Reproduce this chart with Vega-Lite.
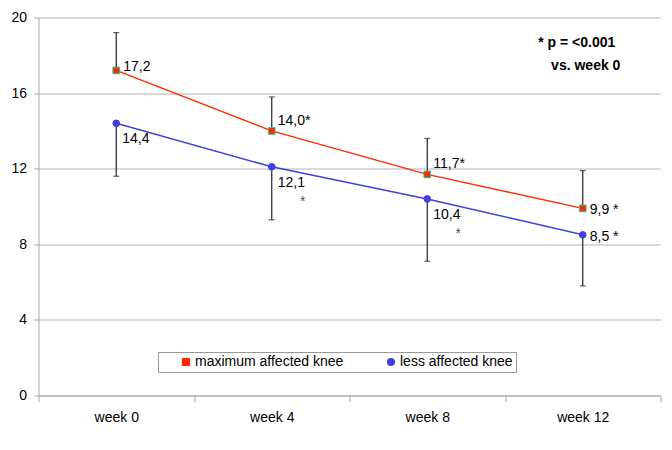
{
  "$schema": "https://vega.github.io/schema/vega-lite/v6.json",
  "width": 622,
  "height": 378,
  "autosize": {"type": "none"},
  "padding": {"left": 38.5, "top": 17.5, "right": 11.5, "bottom": 54.5},
  "background": "white",
  "config": {
    "font": "Liberation Sans",
    "view": {"stroke": null},
    "axis": {"labelFont": "Liberation Sans", "labelFontSize": 14, "labelColor": "#000000", "domainColor": "#a8a8a8", "tickColor": "#a8a8a8", "title": null},
    "legend": {"labelFont": "Liberation Sans"}
  },
  "data": {
    "values": [
      {"week": "week 0", "series": "maximum affected knee", "value": 17.2, "err": 19.2, "label": "17,2"},
      {"week": "week 4", "series": "maximum affected knee", "value": 14.0, "err": 15.8, "label": "14,0*"},
      {"week": "week 8", "series": "maximum affected knee", "value": 11.7, "err": 13.6, "label": "11,7*"},
      {"week": "week 12", "series": "maximum affected knee", "value": 9.9, "err": 11.9, "label": "9,9 *"},
      {"week": "week 0", "series": "less affected knee", "value": 14.4, "err": 11.6, "label": "14,4"},
      {"week": "week 4", "series": "less affected knee", "value": 12.1, "err": 9.3, "label": "12,1"},
      {"week": "week 8", "series": "less affected knee", "value": 10.4, "err": 7.1, "label": "10,4"},
      {"week": "week 12", "series": "less affected knee", "value": 8.5, "err": 5.8, "label": "8,5 *"}
    ]
  },
  "encoding": {
    "x": {
      "field": "week", "type": "ordinal",
      "sort": ["week 0", "week 4", "week 8", "week 12"],
      "scale": {"type": "band", "paddingInner": 0, "paddingOuter": 0},
      "axis": {"labelAngle": 0, "tickBand": "extent", "tickSize": 6, "labelPadding": 9, "grid": false}
    }
  },
  "layer": [
    {
      "mark": {"type": "rule", "color": "#222222", "strokeWidth": 1.2},
      "encoding": {
        "y": {"field": "value", "type": "quantitative", "scale": {"domain": [0, 20], "nice": false},
              "axis": {"values": [0, 4, 8, 12, 16, 20], "grid": true, "gridColor": "#b3b3b3", "tickSize": 5, "labelPadding": 7}},
        "y2": {"field": "err"}
      }
    },
    {
      "mark": {"type": "tick", "color": "#222222", "size": 6, "thickness": 1.2},
      "encoding": {"y": {"field": "err", "type": "quantitative"}}
    },
    {
      "mark": {"type": "line", "strokeWidth": 1.5},
      "encoding": {
        "y": {"field": "value", "type": "quantitative"},
        "color": {"field": "series", "type": "nominal",
                  "scale": {"domain": ["maximum affected knee", "less affected knee"], "range": ["#ff2a00", "#4040dd"]},
                  "legend": {"orient": "none", "legendX": 119.5, "legendY": 334.5, "direction": "horizontal", "title": null,
                             "strokeColor": "#999999", "fillColor": "#ffffff", "padding": 3, "labelFontSize": 14,
                             "columnPadding": 22, "symbolSize": 45, "labelOffset": 2, "symbolOffset": 18}}
      }
    },
    {
      "mark": {"type": "point", "filled": true, "size": 45, "strokeWidth": 1, "opacity": 1},
      "encoding": {
        "y": {"field": "value", "type": "quantitative"},
        "color": {"field": "series", "type": "nominal"},
        "shape": {"field": "series", "type": "nominal",
                  "scale": {"domain": ["maximum affected knee", "less affected knee"], "range": ["square", "circle"]}},
        "stroke": {"field": "series", "type": "nominal",
                   "scale": {"domain": ["maximum affected knee", "less affected knee"], "range": ["#2ec49c", "#4040dd"]},
                   "legend": null}
      }
    },
    {
      "transform": [{"filter": "datum.series == 'maximum affected knee' && datum.week == 'week 0'"}],
      "mark": {"type": "text", "align": "left", "baseline": "middle", "dx": 7, "dy": -3, "fontSize": 14, "color": "#000000"},
      "encoding": {"y": {"field": "value", "type": "quantitative"}, "text": {"field": "label"}}
    },
    {
      "transform": [{"filter": "datum.series == 'maximum affected knee' && (datum.week == 'week 4' || datum.week == 'week 8')"}],
      "mark": {"type": "text", "align": "left", "baseline": "middle", "dx": 6, "dy": -10, "fontSize": 14, "color": "#000000"},
      "encoding": {"y": {"field": "value", "type": "quantitative"}, "text": {"field": "label"}}
    },
    {
      "transform": [{"filter": "datum.week == 'week 12'"}],
      "mark": {"type": "text", "align": "left", "baseline": "middle", "dx": 7, "dy": 2, "fontSize": 14, "color": "#000000"},
      "encoding": {"y": {"field": "value", "type": "quantitative"}, "text": {"field": "label"}}
    },
    {
      "transform": [{"filter": "datum.series == 'less affected knee' && datum.week != 'week 12'"}],
      "mark": {"type": "text", "align": "left", "baseline": "middle", "dx": 6, "dy": 16, "fontSize": 14, "color": "#000000"},
      "encoding": {"y": {"field": "value", "type": "quantitative"}, "text": {"field": "label"}}
    },
    {
      "transform": [{"filter": "datum.series == 'less affected knee' && (datum.week == 'week 4' || datum.week == 'week 8')"}],
      "mark": {"type": "text", "align": "center", "baseline": "middle", "dx": 31, "dy": 35, "fontSize": 14, "color": "#555555", "text": "*"},
      "encoding": {"y": {"field": "value", "type": "quantitative"}}
    },
    {
      "data": {"values": [{"week": "week 12", "value": 18.63, "label": "* p = <0.001"}]},
      "mark": {"type": "text", "align": "center", "baseline": "middle", "dx": -6, "fontSize": 14, "fontWeight": "bold", "color": "#000000"},
      "encoding": {"y": {"field": "value", "type": "quantitative"}, "text": {"field": "label"}}
    },
    {
      "data": {"values": [{"week": "week 12", "value": 17.43, "label": "vs.  week 0"}]},
      "mark": {"type": "text", "align": "center", "baseline": "middle", "dx": 3, "fontSize": 14, "fontWeight": "bold", "color": "#000000"},
      "encoding": {"y": {"field": "value", "type": "quantitative"}, "text": {"field": "label"}}
    }
  ]
}
